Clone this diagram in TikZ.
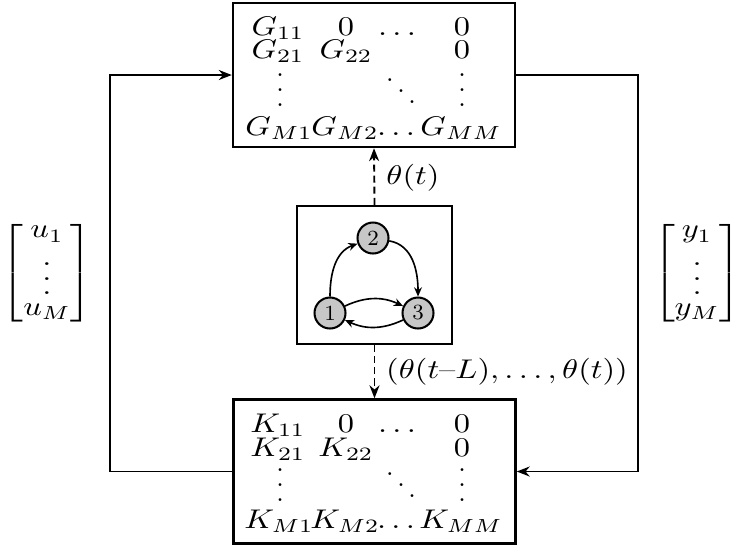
\documentclass[tikz,border=0pt]{standalone}
\usetikzlibrary{arrows.meta}
\newcommand\sx[1]{\scalebox{1.2}[1]{#1}}
\newcommand\myvd{\vbox{\baselineskip=5.5pt\lineskiplimit=-20pt\hbox{.}\hbox{.}\hbox{.}}}
\newcommand\mydd{\vbox{\baselineskip=4.1pt\lineskiplimit=-20pt\hbox{.}\hbox{\kern4.1pt.}\hbox{\kern8.2pt.}}}
\newcommand\vecvd{\vbox{\kern7pt\baselineskip=5.4pt\lineskiplimit=-20pt\hbox{.}\hbox{.}\hbox{.}}}
\newcommand\myvec[2]{\sx{$\renewcommand\arraystretch{0.6}\left[\begin{array}{@{}c@{}}#1_1\\ \vecvd\\[0.6pt] #1_#2\end{array}\right]$}}
\begin{document}
\begin{tikzpicture}[x=0.37pt,y=-0.37pt,
  bigbox/.style={draw,line width=0.9pt,minimum width={282*0.37pt},minimum height={144*0.37pt},inner sep=0pt},
  midbox/.style={draw,line width=0.9pt,minimum width={155*0.37pt},minimum height={138*0.37pt},inner sep=0pt},
  ent/.style={anchor=base,inner sep=0pt},
  dotbox/.style={inner sep=0pt},
  gnode/.style={circle,draw,line width=0.75pt,fill=black!22,minimum size={31*0.37pt},inner sep=0pt,font=\footnotesize},
  conn/.style={line width=0.7pt,-{Stealth[length=4.8pt,width=3.7pt]}},
  gedge/.style={line width=0.6pt,-{Stealth[length=3.4pt,width=2.9pt]}},
  dashconn/.style={line width=0.7pt,dash pattern=on 2.6pt off 1.5pt,-{Stealth[length=4.8pt,width=3.7pt]}}]
\useasboundingbox (0,0) rectangle (732,550);
% boxes
\node[bigbox] (G) at (374,75) {};
\node[bigbox] (K) at (374.5,471.5) {};
\node[midbox] (C) at (374.5,275) {};
% G entries
\node[ent] (g11) at (278,35) {\sx{$G_{11}$}};
\node[ent] (g12) at (346,35) {\sx{$0$}};
\node[ent] (g13) at (397,35) {\sx{$\dots$}};
\node[ent] (g14) at (462,35) {\sx{$0$}};
\node[ent] (g21) at (278,58) {\sx{$G_{21}$}};
\node[ent] (g22) at (346,58) {\sx{$G_{22}$}};
\node[ent] (g24) at (462,58) {\sx{$0$}};
\node[dotbox] (gv1) at (280,90) {\myvd};
\node[dotbox] (gdd) at (401,91) {\mydd};
\node[dotbox] (gv4) at (462,90) {\myvd};
\node[ent] (gm1) at (279,135) {\sx{$G_{M1}$}};
\node[ent] (gm2) at (345,135) {\sx{$G_{M2}$}};
\node[ent] (gm3) at (396,135) {\sx{$\dots$}};
\node[ent] (gm4) at (461,135) {\sx{$G_{MM}$}};
% K entries
\node[ent] (k11) at (278,432) {\sx{$K_{11}$}};
\node[ent] (k12) at (346,432) {\sx{$0$}};
\node[ent] (k13) at (397,432) {\sx{$\dots$}};
\node[ent] (k14) at (462,432) {\sx{$0$}};
\node[ent] (k21) at (278,456) {\sx{$K_{21}$}};
\node[ent] (k22) at (346,456) {\sx{$K_{22}$}};
\node[ent] (k24) at (462,456) {\sx{$0$}};
\node[dotbox] (kv1) at (280,485) {\myvd};
\node[dotbox] (kdd) at (401,485) {\mydd};
\node[dotbox] (kv4) at (462,485) {\myvd};
\node[ent] (km1) at (279,528) {\sx{$K_{M1}$}};
\node[ent] (km2) at (345,528) {\sx{$K_{M2}$}};
\node[ent] (km3) at (396,528) {\sx{$\dots$}};
\node[ent] (km4) at (461,528) {\sx{$K_{MM}$}};
% graph
\node[gnode] (n1) at (330,313) {1};
\node[gnode] (n2) at (373,238) {2};
\node[gnode] (n3) at (418,313) {3};
\draw[gedge] (n1) to[out=90,in=200] (n2);
\draw[gedge] (n2) to[out=-10,in=90] (n3);
\draw[gedge] (n1) to[bend left=25] (n3);
\draw[gedge] (n3) to[bend left=25] (n1);
% dashed
\draw[dashconn] (C.north) -- (G.south);
\draw[dashconn] (C.south) -- (K.north);
\node[inner sep=0pt] (lt) at (413,178) {\sx{$\theta(t)$}};
\node[inner sep=0pt] (lL) at (507,372) {\sx{$(\theta(t\mbox{--}L),\ldots,\theta(t))$}};
% feedback
\coordinate (L) at (110,275);
\coordinate (R) at (638,275);
\draw[conn] (K.west) -- (K.west -| L) -- (G.west -| L) -- (G.west);
\draw[conn] (G.east) -- (G.east -| R) -- (K.east -| R) -- (K.east);
% vectors
\node[inner sep=0pt] (u) at (47,273) {\myvec{u}{M}};
\node[inner sep=0pt] (y) at (697,273) {\myvec{y}{M}};
\end{tikzpicture}
\end{document}
